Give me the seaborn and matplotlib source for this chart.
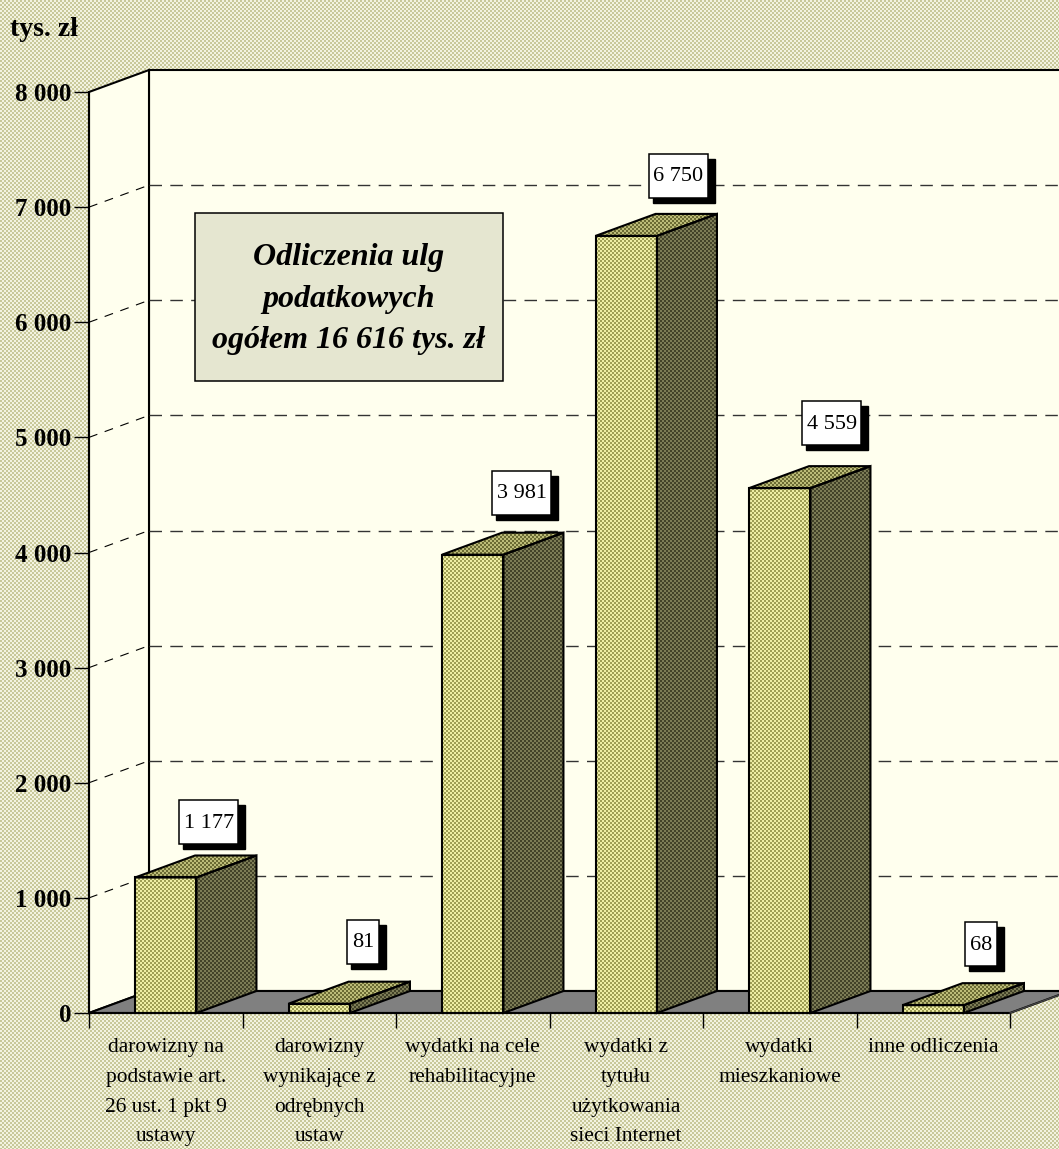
import numpy as np
import pandas as pd
import seaborn as sns
import matplotlib.pyplot as plt
from matplotlib.patches import Polygon, Rectangle
from matplotlib.transforms import IdentityTransform

kategorie = ["darowizny na\npodstawie art.\n26 ust. 1 pkt 9\nustawy",
             "darowizny\nwynikające z\nodrębnych\nustaw",
             "wydatki na cele\nrehabilitacyjne",
             "wydatki z\ntytułu\nużytkowania\nsieci Internet",
             "wydatki\nmieszkaniowe",
             "inne odliczenia"]
wartosci = [1177, 81, 3981, 6750, 4559, 68]
etykiety = ["1 177", "81", "3 981", "6 750", "4 559", "68"]
os_y = [0, 1000, 2000, 3000, 4000, 5000, 6000, 7000, 8000]
os_y_etykiety = ["0", "1 000", "2 000", "3 000", "4 000", "5 000", "6 000", "7 000", "8 000"]

W, H = 1059, 1149
DX, DY = 60, 22   # glebia "3D" w pikselach
lab_dx = [43, 44, 49, 52, 52, 48]
lab_dy = [55, 62, 62, 60, 65, 61]

sns.set_theme(style="white", rc={"axes.facecolor": "none", "text.color": "black",
                                 "xtick.labelcolor": "black", "ytick.labelcolor": "black"})
plt.rcParams['font.family'] = ['Liberation Serif', 'DejaVu Serif']

fig = plt.figure(figsize=(W / 100, H / 100), dpi=100)
ax = fig.add_axes([89 / W, 1 - 1013 / H, 921 / W, 921 / H])
df = pd.DataFrame({"kategoria": kategorie, "wartosc": wartosci})
sns.barplot(data=df, x="kategoria", y="wartosc", width=0.4, color="#c8c880", ax=ax, zorder=5)
ax.set_xlim(-0.5, 5.5)
ax.set_ylim(0, 8000)
ax.set_xlabel("")
ax.set_ylabel("")
bars = list(ax.patches)


def dither(c1, c2, size=2):
    # szachownica jak w oryginale (rastrowe wypelnienie)
    yy, xx = np.indices((H, W))
    mask = ((xx // size + yy // size) % 2).astype(bool)
    a = np.zeros((H, W, 3))
    a[mask] = plt.matplotlib.colors.to_rgb(c1)
    a[~mask] = plt.matplotlib.colors.to_rgb(c2)
    return a


def fill(patch, c1, c2, z):
    im = ax.imshow(dither(c1, c2), extent=(0, W, 0, H), transform=IdentityTransform(),
                   interpolation="nearest", aspect="auto", zorder=z)
    im.set_clip_box(fig.bbox)
    im.set_clip_path(patch)


def poly(pts, z, fc="none", ec="black", lw=1.5):
    p = Polygon(pts, closed=True, transform=IdentityTransform(), facecolor=fc, edgecolor=ec,
                linewidth=lw, zorder=z, clip_on=False, joinstyle="miter")
    ax.add_patch(p)
    return p


td = ax.transData
x0, y0 = td.transform((-0.5, 0))
x1, _ = td.transform((5.5, 0))
_, y8 = td.transform((0, 8000))

# tlo calej figury
fig.patch.set_alpha(0)
fig.figimage(dither("#f3f3e0", "#c8c89a"), origin="upper", zorder=-5)

# sciany i podloga
poly([(x0 + DX, y0 + DY), (x0 + DX, y8 + DY), (W + 5, y8 + DY), (W + 5, y0 + DY)], 1, fc="#ffffee")
poly([(x0, y0), (x0, y8), (x0 + DX, y8 + DY), (x0 + DX, y0 + DY)], 1, fc="#ffffee")
poly([(x0, y0), (x0 + DX, y0 + DY), (W + 5, y0 + DY), (x1 + DX, y0 + DY), (x1, y0)], 1.5, fc="#808080")

# linie siatki - sciana boczna i tylna
for v in os_y[1:-1]:
    _, yy = td.transform((0, v))
    ax.plot([x0, x0 + DX], [yy, yy + DY], transform=IdentityTransform(), color="black", lw=0.8,
            dashes=(8, 7), zorder=2, clip_on=False)
    ax.plot([x0 + DX, W], [yy + DY, yy + DY], transform=IdentityTransform(), color="#333333", lw=1,
            dashes=(9, 6), zorder=2, clip_on=False)

# slupki z glebia
for i, (b, v) in enumerate(zip(bars, wartosci)):
    bx0, by0 = td.transform((b.get_x(), 0))
    bx1, by1 = td.transform((b.get_x() + b.get_width(), v))
    z = 6 + i
    side = poly([(bx1, by0), (bx1, by1), (bx1 + DX, by1 + DY), (bx1 + DX, by0 + DY)], z + 0.2)
    fill(side, "#7c7c56", "#424228", z)
    top = poly([(bx0, by1), (bx1, by1), (bx1 + DX, by1 + DY), (bx0 + DX, by1 + DY)], z + 0.2)
    fill(top, "#bcbc78", "#6c6c34", z)
    front = poly([(bx0, by0), (bx0, by1), (bx1, by1), (bx1, by0)], z + 0.2)
    fill(front, "#eeeea4", "#9e9e54", z)
    b.set_visible(False)

    # etykieta wartosci z cieniem
    cx, cy = (bx0 + bx1) / 2 + lab_dx[i], by1 + lab_dy[i]
    w = 59 if v >= 1000 else 32
    h = 44
    ax.add_patch(Rectangle((cx - w / 2 + 4, cy - h / 2 - 5), w + 3, h, transform=IdentityTransform(),
                           facecolor="black", edgecolor="black", lw=1, zorder=30, clip_on=False))
    ax.add_patch(Rectangle((cx - w / 2, cy - h / 2), w, h, transform=IdentityTransform(),
                           facecolor="white", edgecolor="black", lw=1.1, zorder=31, clip_on=False))
    ax.text(cx, cy - 1, etykiety[i], transform=IdentityTransform(), ha="center", va="center",
            fontsize=16, color="black", zorder=32)

# ramka z opisem
ax.add_patch(Rectangle((195, H - 381), 308, 168, transform=IdentityTransform(), facecolor="#e5e6d0",
                       edgecolor="black", lw=1.1, zorder=3, clip_on=False))
ax.text(349, H - 299, "Odliczenia ulg\npodatkowych\nogółem 16 616 tys. zł", transform=IdentityTransform(),
        ha="center", va="center", fontsize=23, fontweight="bold", fontstyle="italic",
        linespacing=1.59, color="black", zorder=4)

# osie
sns.despine(ax=ax, left=True, bottom=True, top=True, right=True)
ax.plot([x0, x0], [y0, y8], transform=IdentityTransform(), color="black", lw=1.5, zorder=20, clip_on=False)
ax.plot([x0, x1], [y0, y0], transform=IdentityTransform(), color="black", lw=1.5, zorder=20, clip_on=False)
ax.plot([x1, W + 5], [y0, y0 + (W + 5 - x1) * DY / DX], transform=IdentityTransform(), color="#444444",
        lw=1, zorder=20, clip_on=False)

ax.set_yticks(os_y, labels=os_y_etykiety)
ax.tick_params(axis="y", length=11, width=1, color="black", left=True, pad=1.5, labelsize=18)
for t in ax.get_yticklabels():
    t.set_fontweight("bold")
ax.set_xticks(np.arange(7) - 0.5, labels=[""] * 7)
ax.set_xticks(range(6), labels=kategorie, minor=True)
ax.tick_params(axis="x", which="major", length=11, width=1, color="black", bottom=True)
ax.tick_params(axis="x", which="minor", length=0, pad=18, labelsize=15.4)
for t in ax.get_xticklabels(minor=True):
    t.set_linespacing(1.77)
    t.set_verticalalignment("top")

fig.text(10 / W, 1 - 29 / H, "tys. zł", fontsize=20, fontweight="bold", va="center", ha="left")

fig.savefig("out.png", dpi=100)
